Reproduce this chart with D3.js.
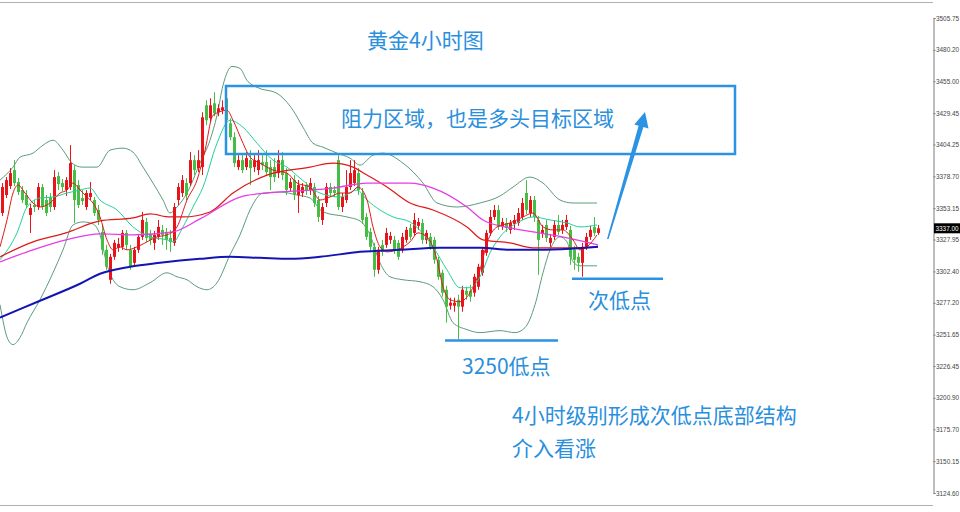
<!DOCTYPE html>
<html><head><meta charset="utf-8">
<script src="https://cdn.jsdelivr.net/npm/d3@7/dist/d3.min.js"></script>
<style>
html,body{margin:0;padding:0;background:#fff;}
svg{display:block;}
</style></head>
<body>
<svg id="c" width="960" height="512"></svg>
<script>
// ---------- DATA ----------
const yTicks = [3505.75,3480.20,3455.00,3429.45,3404.25,3378.70,3353.15,3327.95,3302.40,3277.20,3251.65,3226.45,3200.90,3175.70,3150.15,3124.60];
const lastPrice = 3337.00;
// candles: [open, high, low, close]
const ohlc = [
[3349.3,3373.3,3346.9,3370.1],[3363.7,3378.1,3361.3,3375.7],[3370.9,3385.3,3368.5,3381.3],[3383.7,3391.7,3370.9,3373.3],
[3374.1,3377.3,3363.7,3366.1],[3367.7,3370.9,3357.3,3359.7],[3363.7,3367.7,3353.3,3355.7],[3347.7,3356.5,3333.3,3353.3],
[3355.7,3359.7,3350.1,3354.1],[3354.1,3373.3,3351.7,3370.1],[3370.1,3372.5,3351.7,3354.1],[3359.7,3363.7,3346.9,3349.3],
[3362.1,3365.3,3350.1,3354.1],[3354.1,3383.7,3351.7,3378.1],[3378.9,3382.1,3367.7,3372.5],[3373.3,3376.5,3366.9,3370.1],
[3367.7,3378.1,3362.9,3375.7],[3370.1,3403.7,3367.7,3389.3],[3383.7,3387.7,3341.3,3359.7],[3371.7,3375.7,3353.3,3355.7],
[3361.3,3367.7,3355.7,3358.9],[3354.1,3367.7,3351.7,3365.3],[3362.1,3374.1,3359.7,3365.3],[3359.7,3362.1,3346.9,3349.3],
[3351.7,3355.7,3339.7,3343.7],[3334.1,3339.7,3315.7,3319.7],[3319.7,3323.7,3303.7,3306.1],[3295.7,3316.5,3292.5,3314.1],
[3314.1,3327.7,3311.7,3325.3],[3321.3,3329.3,3318.1,3324.5],[3322.1,3335.7,3319.7,3333.3],[3333.3,3335.7,3319.7,3323.7],
[3319.7,3323.7,3303.7,3306.1],[3309.3,3322.1,3306.9,3319.7],[3319.7,3332.5,3317.3,3330.1],[3330.1,3350.1,3327.7,3343.7],
[3342.1,3345.3,3326.1,3329.3],[3331.7,3335.7,3323.7,3327.7],[3325.3,3334.9,3319.7,3331.7],[3330.1,3343.7,3327.7,3338.1],
[3335.7,3339.7,3323.7,3331.7],[3334.1,3337.3,3319.7,3327.7],[3329.3,3335.7,3318.1,3326.1],[3325.3,3357.3,3322.9,3354.1],
[3359.7,3373.3,3355.7,3370.1],[3365.3,3379.7,3362.1,3375.7],[3373.3,3377.3,3359.7,3363.7],[3373.3,3398.1,3370.9,3391.7],
[3391.7,3395.7,3379.7,3383.7],[3385.3,3399.7,3382.1,3391.7],[3386.1,3430.1,3379.7,3426.1],[3435.7,3439.7,3419.7,3423.7],
[3425.3,3441.3,3422.1,3435.7],[3437.3,3446.1,3426.9,3429.3],[3430.1,3436.5,3426.9,3433.3],[3431.7,3439.7,3428.5,3434.1],
[3441.3,3446.1,3420.5,3423.7],[3421.3,3425.3,3407.7,3410.1],[3410.1,3414.1,3386.1,3389.3],[3386.1,3395.7,3383.7,3391.7],
[3391.7,3395.7,3381.3,3383.7],[3386.1,3398.1,3383.7,3393.3],[3391.7,3399.7,3371.7,3385.3],[3386.1,3395.7,3382.1,3391.7],
[3383.7,3399.7,3379.7,3391.7],[3390.1,3395.7,3383.7,3387.7],[3390.1,3399.7,3379.7,3382.1],[3386.1,3391.7,3367.7,3378.1],
[3386.1,3393.3,3374.1,3378.1],[3381.3,3399.7,3377.3,3391.7],[3391.7,3398.1,3375.7,3379.7],[3381.3,3385.3,3363.7,3367.7],
[3369.3,3377.3,3366.1,3374.1],[3375.7,3379.7,3359.7,3363.7],[3363.7,3375.7,3349.3,3371.7],[3365.3,3373.3,3362.1,3370.1],
[3371.7,3374.1,3363.7,3367.7],[3367.7,3377.3,3363.7,3373.3],[3370.1,3373.3,3354.1,3357.3],[3359.7,3362.9,3342.1,3346.1],
[3343.7,3357.3,3339.7,3354.1],[3357.3,3373.3,3354.1,3370.1],[3370.1,3373.3,3362.1,3365.3],[3367.7,3370.9,3362.1,3365.3],
[3391.7,3395.7,3351.7,3354.1],[3354.1,3365.3,3350.1,3362.1],[3359.7,3383.7,3357.3,3370.1],[3370.1,3391.7,3367.7,3381.3],
[3373.3,3391.7,3370.9,3383.7],[3381.3,3385.3,3363.7,3367.7],[3365.3,3369.3,3340.5,3343.7],[3346.1,3349.3,3327.7,3330.1],
[3334.1,3337.3,3318.1,3322.1],[3322.1,3325.3,3298.1,3303.7],[3303.7,3322.1,3300.5,3319.7],[3323.7,3327.7,3314.9,3318.1],
[3323.7,3337.3,3321.3,3333.3],[3327.7,3334.1,3324.5,3330.9],[3327.7,3330.9,3316.5,3319.7],[3325.3,3327.7,3311.7,3314.1],
[3319.7,3333.3,3317.3,3330.1],[3327.7,3338.1,3325.3,3335.7],[3337.3,3340.5,3327.7,3330.1],[3333.3,3349.3,3330.9,3343.7],
[3338.9,3345.3,3335.7,3342.1],[3341.3,3344.5,3324.5,3327.7],[3327.7,3335.7,3324.5,3333.3],[3330.1,3333.3,3319.7,3322.1],
[3327.7,3330.1,3308.5,3311.7],[3311.7,3314.1,3295.7,3298.1],[3301.3,3303.7,3282.1,3285.3],[3287.7,3290.9,3261.3,3274.1],
[3274.9,3281.3,3271.7,3277.3],[3274.9,3281.3,3270.1,3277.3],[3279.7,3283.7,3247.7,3274.1],[3274.1,3290.9,3270.1,3287.7],
[3286.9,3290.1,3279.7,3283.7],[3286.9,3291.7,3278.1,3282.1],[3285.3,3300.5,3282.1,3298.1],[3290.1,3308.5,3287.7,3306.1],
[3301.3,3322.1,3298.9,3319.7],[3317.3,3335.7,3314.9,3333.3],[3333.3,3351.7,3330.9,3346.1],[3346.1,3355.7,3343.7,3351.7],
[3351.7,3355.7,3335.7,3338.1],[3338.1,3345.3,3335.7,3342.1],[3341.3,3345.3,3334.1,3337.3],[3335.7,3343.7,3332.5,3341.3],
[3340.5,3347.7,3335.7,3343.7],[3341.3,3353.3,3338.9,3349.3],[3346.1,3361.3,3343.7,3357.3],[3365.3,3375.7,3348.5,3351.7],
[3349.3,3362.9,3346.1,3359.7],[3359.7,3362.9,3342.1,3346.1],[3343.7,3346.9,3299.7,3327.7],[3333.3,3339.7,3329.3,3335.7],
[3339.7,3343.7,3326.1,3329.3],[3325.3,3332.5,3322.1,3329.3],[3330.1,3343.7,3327.7,3339.7],[3339.7,3347.7,3331.7,3334.1],
[3335.7,3343.7,3332.5,3339.7],[3338.1,3347.7,3335.7,3343.7],[3335.7,3338.9,3307.7,3314.1],[3319.7,3322.9,3303.7,3311.7],
[3314.1,3317.3,3302.1,3309.3],[3309.3,3325.3,3298.1,3322.1],[3322.1,3333.3,3319.7,3330.1],[3330.1,3338.9,3327.7,3335.7],
[3338.1,3346.1,3330.9,3333.3],[3333.3,3339.7,3331.7,3337.0]
];
// indicator lines: [bar position, price]
const bbUpper = [[-0.5,3375.7],[2.75,3386.1],[4.5,3394.1],[7.75,3397.3],[10.25,3403.7],[12.75,3407.7],[15.25,3399.7],[17.5,3389.3],[20,3386.1],[23.75,3386.1],[27,3399.7],[30.25,3401.3],[32.75,3398.1],[35.25,3386.1],[37.75,3373.3],[40.25,3359.7],[42,3349.3],[43.75,3354.1],[46.25,3365.3],[49.5,3389.3],[52,3407.7],[53.75,3427.7],[55.25,3451.7],[57.5,3466.9],[59.5,3465.3],[61.25,3455.7],[63.75,3450.1],[68.75,3445.3],[72.75,3431.7],[75.25,3418.1],[77.75,3405.3],[80.25,3402.1],[83.75,3397.3],[87,3393.3],[89.5,3387.7],[92.75,3395.7],[95.25,3397.3],[100.25,3389.3],[105.25,3373.3],[108.75,3357.3],[113.75,3354.1],[119.5,3357.3],[124.5,3362.9],[127.75,3370.1],[132,3378.1],[135.25,3373.3],[139.5,3359.7],[142.75,3357.3],[148.75,3357.3]];
const bbLower = [[-0.5,3275.7],[1.5,3247.7],[2.75,3243.7],[4.5,3249.3],[6.25,3261.3],[9.5,3279.7],[12.75,3301.3],[15.25,3319.7],[17.75,3339.7],[20.25,3342.1],[22.75,3340.5],[24.5,3331.7],[26.25,3307.7],[29.5,3290.1],[32.75,3287.7],[37,3293.3],[41.25,3301.3],[43.75,3298.1],[46.25,3295.7],[48.75,3290.1],[51.25,3287.7],[53.75,3293.3],[57,3315.7],[59.5,3331.7],[62,3351.7],[65.25,3365.3],[69.5,3366.1],[73.75,3363.7],[77,3361.3],[80.25,3350.1],[86.25,3346.1],[89.5,3342.9],[92,3331.7],[94.5,3309.3],[97,3298.1],[100.25,3295.7],[104.5,3294.1],[107.75,3290.1],[110.25,3279.7],[112.75,3261.3],[116.25,3255.7],[119.5,3253.3],[124.5,3254.9],[128.25,3253.3],[130.75,3257.3],[133.25,3275.7],[135.25,3301.3],[137,3319.7],[139.5,3330.1],[141.25,3326.1],[142.75,3310.1],[144.5,3306.9],[148.75,3306.9]];
const maMid = [[-0.5,3311.7],[3.75,3333.3],[6.25,3354.1],[9.5,3361.3],[12.75,3362.1],[16.25,3365.3],[19.5,3367.7],[22,3369.3],[24.5,3359.7],[28.75,3351.7],[32.75,3338.1],[37,3330.1],[41.25,3327.7],[42.75,3326.1],[45.25,3338.1],[47.75,3354.1],[50.25,3370.1],[53.75,3405.3],[57,3423.7],[60.25,3418.1],[63.75,3405.3],[67.75,3391.7],[71.25,3386.1],[74.5,3377.3],[79.5,3365.3],[84.5,3362.1],[88.75,3367.7],[91.25,3359.7],[94.5,3351.7],[97.75,3346.1],[102,3342.1],[107.75,3322.1],[111.25,3303.7],[114.5,3289.3],[117,3289.3],[119.5,3298.1],[122,3317.3],[124.5,3330.1],[128.75,3341.3],[132.75,3346.1],[137,3343.7],[141.25,3341.3],[144.5,3338.1],[148.75,3339.7]];
const maFast = [[-0.5,3322.1],[1.25,3343.7],[2.75,3365.3],[4,3371.7],[5.75,3365.3],[7.75,3357.3],[9.5,3354.1],[12,3357.3],[14.5,3365.3],[16.25,3367.7],[17.75,3373.3],[19.5,3367.7],[21.25,3362.1],[22.75,3357.3],[24.5,3346.1],[26.25,3327.7],[27.75,3319.7],[29.5,3322.1],[31.25,3319.7],[33.75,3322.1],[36.25,3326.1],[38.75,3330.1],[41.25,3331.7],[43.75,3338.1],[46.25,3359.7],[48.75,3375.7],[50.75,3399.7],[52.75,3427.7],[56.25,3431.7],[57.75,3423.7],[60.25,3405.3],[62,3394.1],[64.5,3389.3],[67.75,3383.7],[71.25,3381.3],[73.75,3373.3],[77,3370.1],[79.5,3359.7],[82,3362.1],[84.5,3365.3],[87,3365.3],[89,3370.1],[91.25,3359.7],[92.75,3338.1],[94.5,3322.1],[96.25,3318.1],[98.75,3319.7],[102,3326.1],[104,3333.3],[106.25,3330.1],[108.75,3311.7],[110.25,3290.1],[112,3279.7],[114.5,3278.1],[117,3285.3],[119.5,3303.7],[121.25,3325.3],[123.75,3338.1],[127,3341.3],[130.25,3346.1],[132.75,3349.3],[135.25,3338.1],[137.75,3335.7],[140.25,3335.7],[142.75,3327.7],[144.5,3319.7],[146.25,3322.1],[148.75,3331.7]];
const maSlow = [[-0.5,3314.1],[7.75,3326.1],[16,3333.3],[24.5,3342.9],[32.75,3345.3],[37,3348.5],[42,3346.1],[45.25,3346.1],[52,3350.1],[57.75,3365.3],[66.25,3379.7],[77,3386.1],[82.75,3389.3],[87.75,3386.1],[91.25,3379.7],[96.25,3370.1],[102,3357.3],[107.75,3351.7],[116.25,3338.1],[120.25,3327.7],[127,3325.3],[132.75,3321.3],[141.25,3321.3],[149,3322.1]];
const maPink = [[-0.5,3310.1],[7.75,3319.7],[16,3327.7],[24.5,3332.5],[32.75,3331.7],[42.75,3334.1],[49.5,3344.5],[59.5,3362.1],[66.25,3365.3],[77,3367.7],[82.75,3369.3],[91.25,3373.3],[102,3373.3],[107.75,3369.3],[116.25,3354.1],[120.25,3343.7],[127,3337.3],[132.75,3334.1],[141.25,3329.3],[149,3323.7]];
const maLong = [[-0.5,3265.3],[9.5,3278.9],[19.5,3292.5],[24.5,3300.5],[32,3306.1],[39.5,3309.3],[49.5,3312.5],[57,3314.1],[64.5,3313.3],[72,3312.5],[79.5,3314.1],[89.5,3318.1],[99.5,3319.7],[109.5,3321.3],[119.5,3321.3],[127,3319.7],[134.5,3319.7],[142,3320.5],[149,3322.1]];
// annotation levels
const lowLevel = {price:3247, from:110.75, to:139};
const subLowLevel = {price:3296.5, from:142.5, to:165.25};

// ---------- CHART ----------
const svg = d3.select('#c');
const plotRight = 933;
const x = d3.scaleLinear().domain([-0.5, 149.5]).range([0, 600]);
const y = d3.scaleLinear().domain([3124.60, 3505.75]).range([493, 18]);

svg.append('defs').append('clipPath').attr('id','clip')
  .append('rect').attr('x',0).attr('y',3).attr('width',plotRight).attr('height',502);

// frame (top and bottom edges)
svg.append('line').attr('x1',0).attr('x2',plotRight).attr('y1',2.5).attr('y2',2.5).attr('stroke','#b0b0b0');
svg.append('line').attr('x1',0).attr('x2',plotRight).attr('y1',505.5).attr('y2',505.5).attr('stroke','#b0b0b0');

const g = svg.append('g').attr('clip-path','url(#clip)');
const line = d3.line().x(d=>x(d[0])).y(d=>y(d[1])).curve(d3.curveMonotoneX);

// bollinger bands
[bbUpper, bbLower].forEach(s => g.append('path').attr('d', line(s))
  .attr('fill','none').attr('stroke','#5c9c7c').attr('stroke-width',1));

// candles
const up = '#e8141b', dn = '#46be46';
const cg = g.append('g');
ohlc.forEach((d,i) => {
  const cx = Math.round(x(i));
  const col = d[3] >= d[0] ? up : dn;
  cg.append('line').attr('x1',cx+0.5).attr('x2',cx+0.5)
    .attr('y1',y(d[1])).attr('y2',y(d[2])).attr('stroke',col).attr('stroke-width',1);
  const top = y(Math.max(d[0],d[3])), bot = y(Math.min(d[0],d[3]));
  cg.append('rect').attr('x',cx-1).attr('width',3)
    .attr('y',top).attr('height',Math.max(1,bot-top)).attr('fill',col);
});

// moving averages
g.append('path').attr('d',line(maMid)).attr('fill','none').attr('stroke','#22d09a').attr('stroke-width',1);
g.append('path').attr('d',line(maSlow)).attr('fill','none').attr('stroke','#e01818').attr('stroke-width',1.2);
g.append('path').attr('d',line(maPink)).attr('fill','none').attr('stroke','#e63ce6').attr('stroke-width',1.3);
g.append('path').attr('d',line(maFast)).attr('fill','none').attr('stroke','#e01818').attr('stroke-width',1);
g.append('path').attr('d',line(maLong)).attr('fill','none').attr('stroke','#1414b4').attr('stroke-width',2);

// right axis
const ax = svg.append('g').attr('transform',`translate(${plotRight+0.5},0)`)
  .call(d3.axisRight(y).tickValues(yTicks).tickFormat(d=>d.toFixed(2)).tickSize(2).tickPadding(0.5));
ax.select('.domain').attr('stroke','#7a7a7a');
ax.selectAll('.tick line').attr('stroke','#7a7a7a');
ax.selectAll('text').attr('font-family','Liberation Sans, Arial, sans-serif').attr('font-size',6.4).attr('fill','#444');

// last price label
const lp = svg.append('g').attr('transform',`translate(${plotRight+1},${y(lastPrice)})`);
lp.append('rect').attr('x',0).attr('y',-5).attr('width',27).attr('height',10).attr('fill','#000');
lp.append('text').attr('x',1.5).attr('y',2.3).attr('font-family','Liberation Sans, Arial, sans-serif')
  .attr('font-size',6.4).attr('fill','#fff').text(lastPrice.toFixed(2));

// ---------- annotations ----------
const blue = '#2a93e4', txt = '#2a8fdc';
const font = "'Noto Sans CJK SC', sans-serif";
function label(t, tx, ty){
  svg.append('text').attr('x',tx).attr('y',ty).attr('font-family',font)
    .attr('font-size',21).attr('fill',txt).text(t);
}
label('黄金4小时图', 367, 48);
svg.append('rect').attr('x',226).attr('y',86).attr('width',509).attr('height',68)
  .attr('fill','none').attr('stroke',blue).attr('stroke-width',2.5);
label('阻力区域，也是多头目标区域', 341, 126);

// arrow
svg.append('polygon')
  .attr('points','607,239 638.6,125.7 634.3,124.4 645,112 648.5,128.6 643.4,127.1 608.6,239')
  .attr('fill',blue);

// low lines
[lowLevel, subLowLevel].forEach(l => svg.append('line')
  .attr('x1',x(l.from)).attr('x2',x(l.to)).attr('y1',y(l.price)).attr('y2',y(l.price))
  .attr('stroke',blue).attr('stroke-width',2.5));
label('次低点', 588, 308);
label('3250低点', 462, 374);
label('4小时级别形成次低点底部结构', 512, 423);
label('介入看涨', 512, 456);
</script>
</body></html>
